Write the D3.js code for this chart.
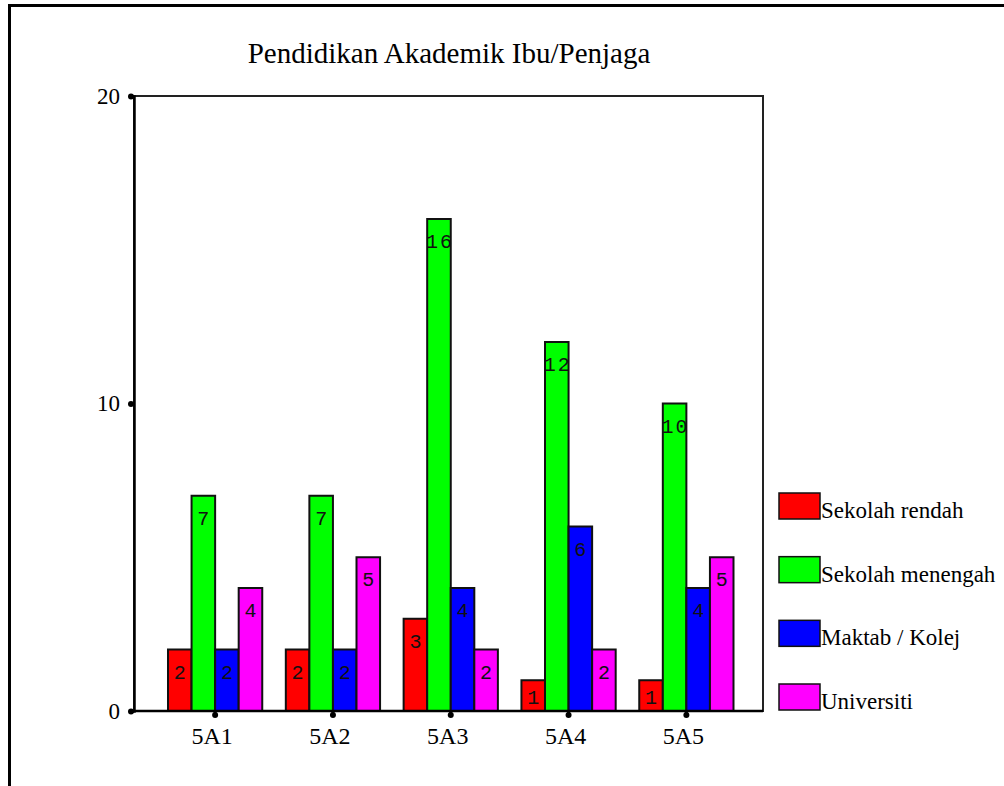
<!DOCTYPE html>
<html>
<head>
<meta charset="utf-8">
<script src="https://cdn.jsdelivr.net/npm/d3@7"></script>
<style>
  html, body { margin: 0; padding: 0; background: #fff; }
  svg { display: block; }
</style>
</head>
<body>
<svg id="chart" width="1004" height="786"></svg>
<script>
const title = "Pendidikan Akademik Ibu/Penjaga";
const categories = ["5A1", "5A2", "5A3", "5A4", "5A5"];
const seriesNames = ["Sekolah rendah", "Sekolah menengah", "Maktab / Kolej", "Universiti"];
const seriesColors = ["#ff0000", "#00ff00", "#0000ff", "#ff00ff"];
const sekolahRendah = [2, 2, 3, 1, 1];
const sekolahMenengah = [7, 7, 16, 12, 10];
const maktabKolej = [2, 2, 4, 6, 4];
const universiti = [4, 5, 2, 2, 5];
const yTicks = [0, 10, 20];

const seriesValues = [sekolahRendah, sekolahMenengah, maktabKolej, universiti];

const svg = d3.select("#chart");
const serif = "'Liberation Serif', 'Times New Roman', serif";

// outer frame
svg.append("rect").attr("x", 9.5).attr("y", 5.5).attr("width", 1200).attr("height", 1000)
  .attr("fill", "none").attr("stroke", "#000").attr("stroke-width", 3);

const plot = { left: 134, right: 763, top: 96, bottom: 711 };

const y = d3.scaleLinear().domain([0, 20]).range([plot.bottom, plot.top]);
const x0 = d3.scaleBand().domain(categories).range([168, 733.5]).paddingInner(0.2).paddingOuter(0);
const x1 = d3.scaleBand().domain(seriesNames).range([0, x0.bandwidth()]);
const color = d3.scaleOrdinal().domain(seriesNames).range(seriesColors);

// title
svg.append("text").attr("x", 449).attr("y", 63)
  .attr("text-anchor", "middle").attr("font-family", serif)
  .attr("font-size", 29).text(title);

// plot frame
svg.append("rect").attr("x", plot.left).attr("y", plot.top)
  .attr("width", plot.right - plot.left).attr("height", plot.bottom - plot.top)
  .attr("fill", "none").attr("stroke", "#222").attr("stroke-width", 2);

// bars
const rows = [];
categories.forEach((c, ci) => {
  seriesNames.forEach((s, si) => rows.push({ cat: c, series: s, value: seriesValues[si][ci] }));
});

const g = svg.append("g");
g.selectAll("rect.bar").data(rows).enter().append("rect")
  .attr("class", "bar")
  .attr("x", d => x0(d.cat) + x1(d.series))
  .attr("y", d => y(d.value))
  .attr("width", x1.bandwidth())
  .attr("height", d => y(0) - y(d.value))
  .attr("fill", d => color(d.series))
  .attr("stroke", "#111").attr("stroke-width", 2);

g.selectAll("text.lbl").data(rows).enter().append("text")
  .attr("class", "lbl")
  .attr("x", d => x0(d.cat) + x1(d.series) + x1.bandwidth() / 2 + 1)
  .attr("y", d => Math.min(y(d.value) + 29, y(0) - 7))
  .attr("text-anchor", "middle")
  .attr("font-family", "'Liberation Mono', monospace")
  .attr("font-size", 20)
  .attr("letter-spacing", 2)
  .attr("fill", "#111")
  .text(d => d.value);

// y axis
const yAxis = svg.append("g").attr("transform", `translate(${plot.left},0)`)
  .call(d3.axisLeft(y).tickValues(yTicks).tickSize(5).tickPadding(9).tickFormat(d3.format("d")));
yAxis.select(".domain").attr("stroke", "#000").attr("stroke-width", 2.5);
yAxis.selectAll(".tick line").attr("stroke", "#000").attr("stroke-width", 2.5);
yAxis.selectAll(".tick").append("circle").attr("cx", -3).attr("cy", 0).attr("r", 3).attr("fill", "#000");
yAxis.selectAll(".tick text").attr("font-family", serif).attr("font-size", 23).attr("fill", "#000");

// x axis
const xAxis = svg.append("g").attr("transform", `translate(0,${plot.bottom})`)
  .call(d3.axisBottom(x0).tickSize(4).tickPadding(12));
xAxis.select(".domain").attr("stroke", "#000").attr("stroke-width", 2.5).attr("d", `M${plot.left},0H${plot.right}`);
xAxis.selectAll(".tick line").attr("stroke", "#000").attr("stroke-width", 3);
xAxis.selectAll(".tick").append("circle").attr("cx", 0).attr("cy", 4).attr("r", 3).attr("fill", "#000");
xAxis.selectAll(".tick text").attr("font-family", serif).attr("font-size", 24).attr("fill", "#000").attr("dx", -3);

// legend
const legend = svg.append("g");
const legRow = d3.scalePoint().domain(seriesNames).range([493, 684]);
const li = legend.selectAll("g").data(seriesNames).enter().append("g")
  .attr("transform", d => `translate(779,${legRow(d)})`);
li.append("rect").attr("width", 41).attr("height", 26)
  .attr("fill", d => color(d)).attr("stroke", "#111").attr("stroke-width", 1.5);
li.append("text").attr("x", 42).attr("y", 25)
  .attr("font-family", serif).attr("font-size", 23).text(d => d);
</script>
</body>
</html>
